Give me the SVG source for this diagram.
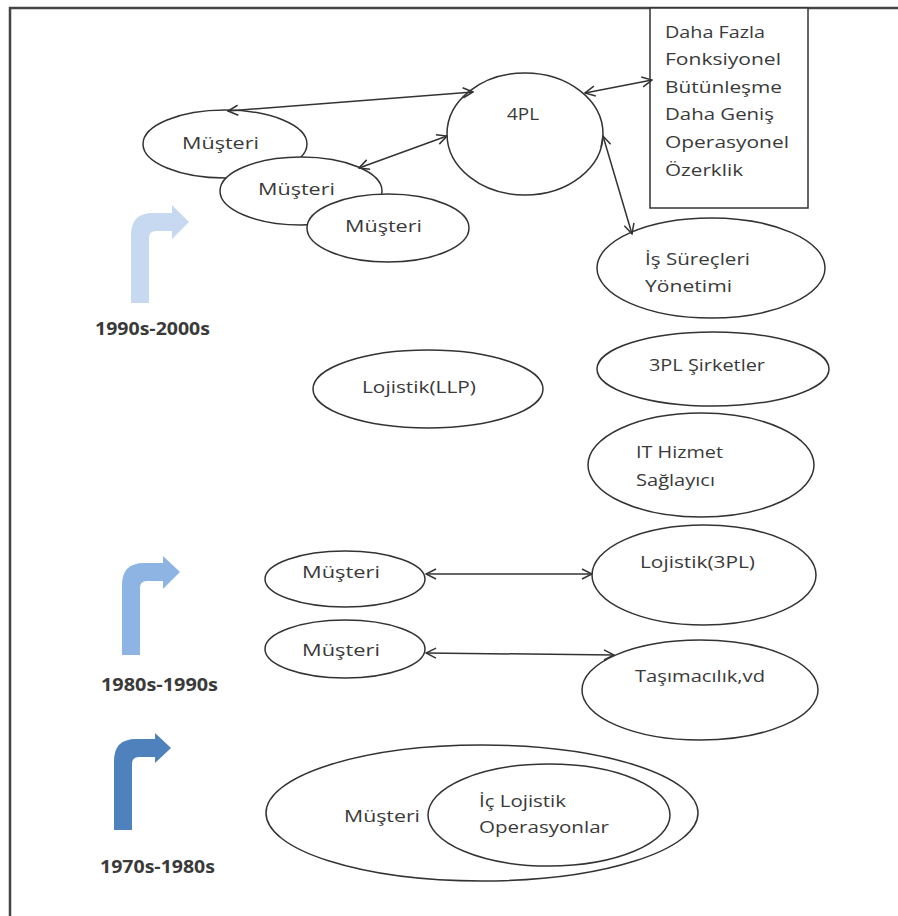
<svg xmlns="http://www.w3.org/2000/svg" width="898" height="916" viewBox="0 0 898 916">
<style>
.nd{fill:#fff;stroke:#333;stroke-width:1.5}
.t{font-family:"Open Sans","Liberation Sans",sans-serif;font-size:17px;fill:#3a3a3a}
.lb{font-family:"Open Sans","Liberation Sans",sans-serif;font-size:17px;font-weight:bold;fill:#3a3a3a}
.cn{stroke:#333;stroke-width:1.5;fill:none;marker-start:url(#ah);marker-end:url(#ah)}
.frame{stroke:#444;stroke-width:2.5;fill:none}
</style>
<defs>
<marker id="ah" viewBox="0 0 12 12" refX="11" refY="6" markerWidth="12" markerHeight="12" markerUnits="userSpaceOnUse" orient="auto-start-reverse">
<path d="M1,1 L11,6 L1,11" fill="none" stroke="#333" stroke-width="1.5"/>
</marker>
</defs>
<rect width="898" height="916" fill="#fff"/>
<path class="frame" d="M10,916 V8 H898"/>

<g id="timeline">
<g id="arrow-1990s"><path d="M131,303 L131,235 Q131,213 153,213 L172,213 L172,205 L189,222 L172,239 L172,231 L156,231 Q149,231 149,238 L149,303 Z" fill="#c6d9f1"/>
<text class="lb" x="95" y="335" textLength="115" lengthAdjust="spacingAndGlyphs">1990s-2000s</text></g>
<g id="arrow-1980s"><path d="M122,655 L122,585 Q122,563 144,563 L163,563 L163,556 L180,572 L163,589 L163,581 L147,581 Q140,581 140,588 L140,655 Z" fill="#8db4e2"/>
<text class="lb" x="101" y="691" textLength="117" lengthAdjust="spacingAndGlyphs">1980s-1990s</text></g>
<g id="arrow-1970s"><path d="M114,830 L114,761 Q114,739 136,739 L155,739 L155,733 L171,748 L155,763 L155,757 L139,757 Q132,757 132,764 L132,830 Z" fill="#4f81bd"/>
<text class="lb" x="100" y="873" textLength="115" lengthAdjust="spacingAndGlyphs">1970s-1980s</text></g>
</g>

<g id="box-features">
<rect class="nd" x="650" y="8" width="158" height="200"/>
<text class="t" x="665" y="38" textLength="100" lengthAdjust="spacingAndGlyphs">Daha Fazla</text>
<text class="t" x="665" y="65" textLength="116" lengthAdjust="spacingAndGlyphs">Fonksiyonel</text>
<text class="t" x="665" y="93" textLength="117" lengthAdjust="spacingAndGlyphs">Bütünleşme</text>
<text class="t" x="665" y="120" textLength="109" lengthAdjust="spacingAndGlyphs">Daha Geniş</text>
<text class="t" x="665" y="148" textLength="124" lengthAdjust="spacingAndGlyphs">Operasyonel</text>
<text class="t" x="665" y="176" textLength="78" lengthAdjust="spacingAndGlyphs">Özerklik</text>
</g>

<g id="n-4pl"><ellipse class="nd" cx="525" cy="134" rx="78" ry="61"/>
<text class="t" x="507" y="120" textLength="32" lengthAdjust="spacingAndGlyphs">4PL</text></g>

<g id="n-musteri-a"><ellipse class="nd" cx="225" cy="144" rx="82" ry="34"/>
<text class="t" x="182" y="149" textLength="77" lengthAdjust="spacingAndGlyphs">Müşteri</text></g>
<g id="n-musteri-b"><ellipse class="nd" cx="301" cy="191" rx="81" ry="34"/>
<text class="t" x="258" y="195" textLength="77" lengthAdjust="spacingAndGlyphs">Müşteri</text></g>
<g id="n-musteri-c"><ellipse class="nd" cx="388" cy="228" rx="81" ry="34"/>
<text class="t" x="345" y="232" textLength="77" lengthAdjust="spacingAndGlyphs">Müşteri</text></g>

<g id="n-is-surecleri"><ellipse class="nd" cx="711" cy="268" rx="114" ry="50"/>
<text class="t" x="645" y="265" textLength="105" lengthAdjust="spacingAndGlyphs">İş Süreçleri</text>
<text class="t" x="645" y="292" textLength="87" lengthAdjust="spacingAndGlyphs">Yönetimi</text></g>

<g id="n-llp"><ellipse class="nd" cx="428" cy="389" rx="115" ry="39"/>
<text class="t" x="362" y="393" textLength="114" lengthAdjust="spacingAndGlyphs">Lojistik(LLP)</text></g>

<g id="n-3pl-sirketler"><ellipse class="nd" cx="713" cy="369" rx="116" ry="37"/>
<text class="t" x="649" y="371" textLength="116" lengthAdjust="spacingAndGlyphs">3PL Şirketler</text></g>

<g id="n-it"><ellipse class="nd" cx="701" cy="465" rx="113" ry="52"/>
<text class="t" x="636" y="458" textLength="87" lengthAdjust="spacingAndGlyphs">IT Hizmet</text>
<text class="t" x="636" y="486" textLength="79" lengthAdjust="spacingAndGlyphs">Sağlayıcı</text></g>

<g id="n-musteri-d"><ellipse class="nd" cx="345" cy="579" rx="80" ry="28"/>
<text class="t" x="302" y="578" textLength="78" lengthAdjust="spacingAndGlyphs">Müşteri</text></g>
<g id="n-lojistik-3pl"><ellipse class="nd" cx="704" cy="575" rx="112" ry="50"/>
<text class="t" x="640" y="568" textLength="115" lengthAdjust="spacingAndGlyphs">Lojistik(3PL)</text></g>

<g id="n-musteri-e"><ellipse class="nd" cx="345" cy="649" rx="80" ry="29"/>
<text class="t" x="302" y="656" textLength="78" lengthAdjust="spacingAndGlyphs">Müşteri</text></g>
<g id="n-tasimacilik"><ellipse class="nd" cx="700" cy="690" rx="118" ry="50"/>
<text class="t" x="635" y="682" textLength="130" lengthAdjust="spacingAndGlyphs">Taşımacılık,vd</text></g>

<g id="n-musteri-outer"><ellipse class="nd" cx="482" cy="813" rx="216" ry="68"/>
<text class="t" x="344" y="822" textLength="76" lengthAdjust="spacingAndGlyphs">Müşteri</text></g>
<g id="n-ic-lojistik"><ellipse class="nd" cx="549" cy="815" rx="121" ry="51"/>
<text class="t" x="479" y="807" textLength="87" lengthAdjust="spacingAndGlyphs">İç Lojistik</text>
<text class="t" x="479" y="833" textLength="130" lengthAdjust="spacingAndGlyphs">Operasyonlar</text></g>

<g id="connectors">
<line class="cn" x1="228" y1="111" x2="473" y2="92"/>
<line class="cn" x1="359" y1="168" x2="447" y2="136"/>
<line class="cn" x1="585" y1="93" x2="652" y2="80"/>
<line class="cn" x1="603" y1="136" x2="632" y2="234"/>
<line class="cn" x1="426" y1="574" x2="592" y2="574"/>
<line class="cn" x1="426" y1="653" x2="614" y2="655"/>
</g>
</svg>
